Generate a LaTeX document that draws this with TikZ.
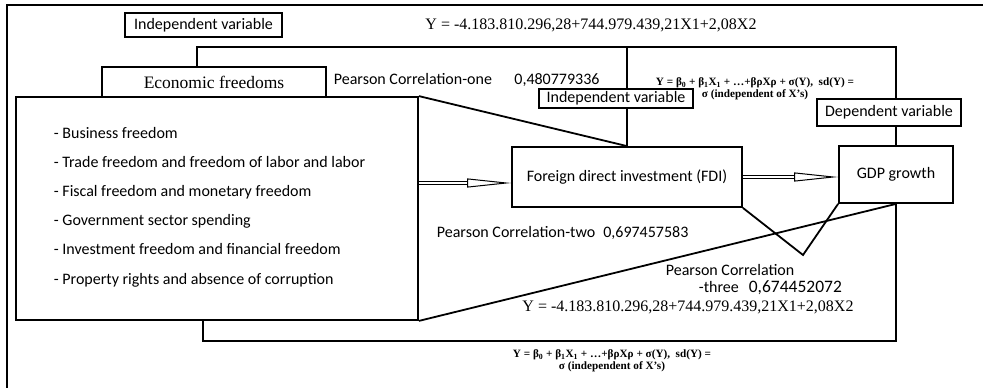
\documentclass[tikz,border=0pt]{standalone}
\usepackage{fontspec}
\setmainfont{Liberation Serif}
\newfontfamily\calib{Carlito}
\usetikzlibrary{arrows.meta}

\begin{document}
\begin{tikzpicture}[x=1pt,y=-1pt,line width=1.8pt,
  box/.style={draw,fill=white,inner sep=0pt,font=\calib\fontsize{16}{19}\selectfont},
  lbl/.style={inner sep=0pt,font=\calib\fontsize{16}{18}\selectfont},
  eqn/.style={inner sep=0pt,font=\fontsize{16}{19}\selectfont},
  reg/.style={inner sep=0pt,align=center,font=\bfseries\fontsize{11.2}{12}\selectfont},
  hollow/.style={double,double distance=2.5pt,line width=1pt,-{Triangle[open,length=44pt,width=9pt]}}]

\useasboundingbox (0,0) rectangle (983,388);
\draw[line width=2pt] (7,388) -- (7,5) -- (983,5);

\node[box,minimum width=157pt,minimum height=24pt] (indA) at (203.5,25) {Independent variable};
\node[box,minimum width=224pt,minimum height=30pt,font=\fontsize{17.5}{20}\selectfont] (econ) at (214,82) {Economic freedoms};
\node[box,minimum width=402pt,minimum height=223pt] (list) at (217,208.5) {};
\node[lbl,anchor=west,align=left,font=\calib\fontsize{16}{29.2}\selectfont] (items) at (53,207)
  {- Business freedom\\- Trade freedom and freedom of labor and labor\\- Fiscal freedom and monetary freedom\\
   - Government sector spending\\- Investment freedom and financial freedom\\- Property rights and absence of corruption};
\node[box,minimum width=230pt,minimum height=60pt] (fdi) at (627,177) {Foreign direct investment (FDI)};
\node[box,minimum width=114pt,minimum height=57pt] (gdp) at (896,174.5) {GDP growth};
\node[box,minimum width=144pt,minimum height=27pt] (dep) at (889,112.5) {Dependent variable};
\node[box,minimum width=154pt,minimum height=19pt] (indB) at (616,98.5) {Independent variable};

\node[eqn] (eqtop) at (591,25) {Y = -4.183.810.296,28+744.979.439,21X1+2,08X2};
\node[eqn] (eqbot) at (688,307) {Y = -4.183.810.296,28+744.979.439,21X1+2,08X2};
\node[lbl,anchor=west] (pcone) at (333,80) {Pearson Correlation-one\hspace{1.4em}0,480779336};
\node[lbl,anchor=west] (pctwo) at (436,233) {Pearson Correlation-two\enspace 0,697457583};
\node[lbl,anchor=west] (pcthree) at (665,270) {Pearson Correlation};
\node[lbl,anchor=base west] (pcthreeb) at (698,292) {-three\hspace{10pt}{\fontsize{17.5}{20}\selectfont 0,674452072}};
\node[reg] (regtop) at (755,89) {Y = β\textsubscript{0} + β\textsubscript{1}X\textsubscript{1} + …+βρXρ + σ(Y),\ \ sd(Y) =\\σ (independent of X’s)};
\node[reg] (regbot) at (612,361) {Y = β\textsubscript{0} + β\textsubscript{1}X\textsubscript{1} + …+βρXρ + σ(Y),\ \ sd(Y) =\\σ (independent of X’s)};

\coordinate (topbar) at (0,47);
\coordinate (botbar) at (0,341);
\coordinate (vtip) at (803,255);

\draw ([xshift=-17pt]econ.north) |- (topbar -| gdp.north) -- (dep.north -| gdp.north);
\draw (fdi.north |- topbar) -- (fdi.north |- indB.north);
\draw (indB.south -| fdi.north) -- (fdi.north);
\draw (dep.south -| gdp.north) -- (gdp.north);
\draw ([xshift=-14pt]list.south) |- (botbar -| gdp.south) -- (gdp.south);
\draw (list.north east) -- (fdi.north);
\draw (list.south east) -- (gdp.south);
\draw (fdi.south east) -- (vtip) -- (gdp.south west);
\draw[hollow] ([yshift=-6pt]list.east |- fdi.west) -- ([yshift=-6pt]fdi.west);
\draw[hollow] (fdi.east) -- (gdp.west |- fdi.east);
\end{tikzpicture}
\end{document}
